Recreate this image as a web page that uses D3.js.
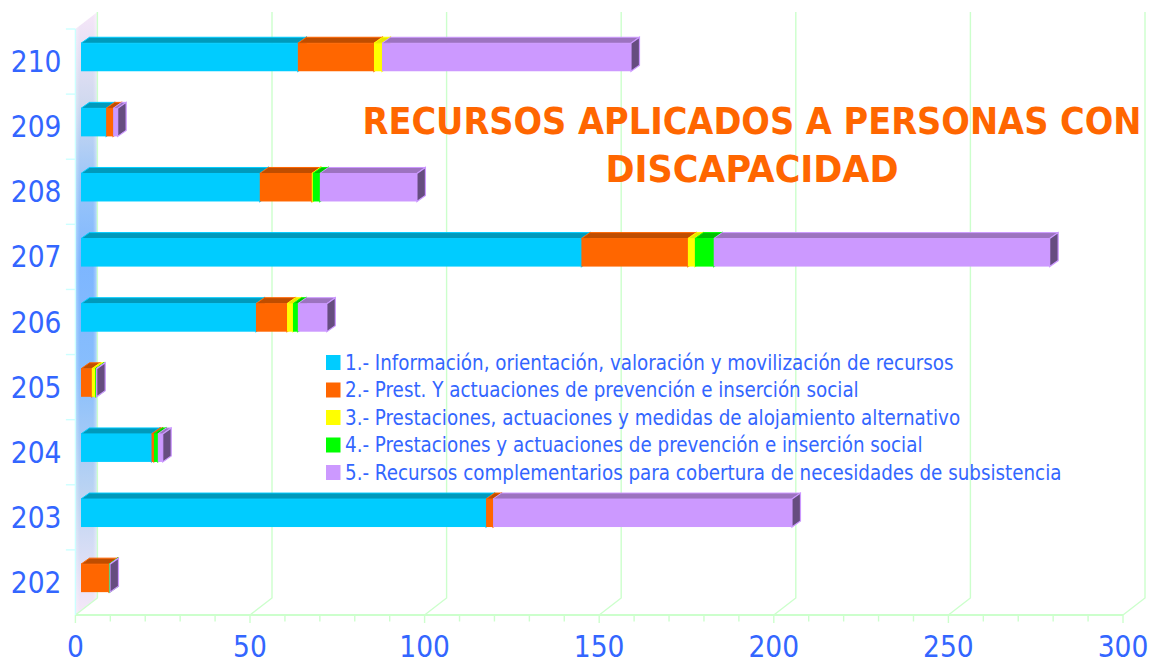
<!DOCTYPE html>
<html><head><meta charset="utf-8">
<script src="https://cdn.jsdelivr.net/npm/d3@7"></script>
<style>html,body{margin:0;padding:0;background:#fff}svg{display:block}
text{font-family:"DejaVu Sans";font-stretch:condensed;fill:#3366ff}</style></head><body>
<script>
const categories=["210","209","208","207","206","205","204","203","202"];
const seriesNames=["1.- Información, orientación, valoración y movilización de recursos","2.- Prest. Y actuaciones de prevención e inserción social","3.- Prestaciones, actuaciones y medidas de alojamiento alternativo","4.- Prestaciones y actuaciones de prevención e inserción social","5.- Recursos complementarios para cobertura de necesidades de subsistencia"];
const s1=[62.1,7.2,51.2,143.3,50.1,0,20.2,116,0];
const s2=[21.8,2,14.9,30.5,8.9,3.1,0.7,2,8];
const s3=[2.3,0,0.3,2,1.7,1,0,0,0];
const s4=[0,0,2,5.4,1.4,0.2,1.1,0,0.2];
const s5=[71.3,1.3,27.8,96.2,8.3,0.2,1.4,85.6,0.1];
const colors=["#00ccff","#ff6600","#ffff00","#00ff00","#cc99ff"];
const topColors=["#0099bb","#bf4d00","#e6e600","#00bf00","#9c73bf"];
const sideColor="#664d80";
const xTicks=d3.range(0,301,50);
const minorTicks=d3.range(0,301,10);
const titleLines=["RECURSOS APLICADOS A PERSONAS CON","DISCAPACIDAD"];

const W=1150,H=661;
const svg=d3.select("body").append("svg").attr("width",W).attr("height",H);
const x=d3.scaleLinear().domain([0,300]).range([75.4,1123]);
const y=d3.scaleBand().domain(categories).range([29,615]).paddingInner(0.57).paddingOuter(0.285);
const step=y.step();
const D={dx:22,dy:-17};      // floor / wall depth
const B={dx:5.6,dy:-4.3};    // bar front offset inside depth
const P={dx:8.5,dy:-6};      // bar depth
const grid="#ccffcc",cy="#ccffff";
const defs=svg.append("defs");
const g1=defs.append("linearGradient").attr("id","wall").attr("x1",0).attr("x2",0).attr("y1",0).attr("y2",1);
[[0,"#f6e6f8"],[0.15,"#d0d9ef"],[0.28,"#9cc6f8"],[0.42,"#7db6ff"],[0.6,"#88befc"],[0.8,"#bcd4f2"],[1,"#f6e8f8"]].forEach(s=>g1.append("stop").attr("offset",s[0]).attr("stop-color",s[1]));
const g2=defs.append("linearGradient").attr("id","fade");
[[0,0.35],[0.2,0],[0.8,0],[1,0.45]].forEach(s=>g2.append("stop").attr("offset",s[0]).attr("stop-color","#fff").attr("stop-opacity",s[1]));

// wall
const wallPts=[[x(0),y.range()[0]],[x(0)+D.dx,y.range()[0]+D.dy],[x(0)+D.dx,615+D.dy],[x(0),615]];
svg.append("polygon").attr("points",wallPts.join(" ")).attr("fill","url(#wall)");
svg.append("polygon").attr("points",wallPts.join(" ")).attr("fill","url(#fade)");

// back gridlines and floor
const gridG=svg.append("g").attr("fill","none").attr("stroke",grid).attr("stroke-width",1.4);
xTicks.forEach(t=>{
  gridG.append("path").attr("d",d3.line()([[x(t),615],[x(t)+D.dx,615+D.dy],[x(t)+D.dx,29+D.dy]]));
});
gridG.append("line").attr("x1",x(0)).attr("x2",x(300)).attr("y1",615).attr("y2",615).attr("stroke-width",2.2);
minorTicks.forEach(t=>gridG.append("line").attr("x1",x(t)).attr("x2",x(t)).attr("y1",615).attr("y2",t%50===0?623:621.5));
// left axis
const leftG=svg.append("g").attr("stroke",cy).attr("stroke-width",1.4);
leftG.append("line").attr("x1",x(0)).attr("x2",x(0)).attr("y1",29).attr("y2",615);
categories.forEach((c,i)=>leftG.append("line").attr("x1",x(0)-9.5).attr("x2",x(0)).attr("y1",29+step*i).attr("y2",29+step*i));

// bars
const data=categories.map((c,i)=>({c,s0:s1[i],s1:s2[i],s2:s3[i],s3:s4[i],s4:s5[i]}));
const stack=d3.stack().keys(["s0","s1","s2","s3","s4"])(data);
const bw=y.bandwidth();
categories.forEach((c,ci)=>{
  const g=svg.append("g").attr("transform",`translate(${B.dx},${B.dy})`);
  const yt=y(c);
  const segs=stack.map((l,si)=>({si,a:l[ci][0],b:l[ci][1]})).filter(d=>d.b>d.a);
  segs.forEach(d=>{
    const x0=x(d.a),x1=x(d.b);
    g.append("polygon").attr("points",[[x0,yt],[x1,yt],[x1+P.dx,yt+P.dy],[x0+P.dx,yt+P.dy]].join(" "))
      .attr("fill",topColors[d.si]).attr("stroke",colors[d.si]).attr("stroke-width",1);
    g.append("polygon").attr("points",[[x1,yt],[x1+P.dx,yt+P.dy],[x1+P.dx,yt+bw+P.dy],[x1,yt+bw]].join(" "))
      .attr("fill",sideColor).attr("stroke",colors[d.si]).attr("stroke-width",1.2);
  });
  segs.forEach(d=>{
    const x0=x(d.a),x1=x(d.b);
    g.append("rect").attr("x",x0).attr("y",yt).attr("width",x1-x0).attr("height",bw).attr("fill",colors[d.si]);
  });
});

// axis labels
const lab=svg.append("g").attr("font-size",29.5);
xTicks.forEach(t=>lab.append("text").attr("x",x(t)).attr("y",657).attr("text-anchor","middle").text(t));
categories.forEach(c=>lab.append("text").attr("x",61.5).attr("y",y(c)+bw/2+10.5).attr("text-anchor","end").text(c));

// title
const tw=[779,293];
svg.append("g").selectAll("text").data(titleLines).join("text")
 .attr("x",752).attr("y",(d,i)=>134+i*48).attr("text-anchor","middle").attr("font-size",37.5).attr("font-weight","bold")
 .attr("textLength",(d,i)=>tw[i]).attr("lengthAdjust","spacingAndGlyphs")
 .style("fill","#ff6600").text(d=>d);

// legend
const lg=svg.append("g");
seriesNames.forEach((n,i)=>{
  const yy=362.5+i*27.5;
  lg.append("rect").attr("x",326).attr("y",yy-7.5).attr("width",14.5).attr("height",15).attr("fill",colors[i]);
  lg.append("text").attr("x",345).attr("y",yy+7).attr("font-size",20.35).text(n);
});
</script></body></html>
